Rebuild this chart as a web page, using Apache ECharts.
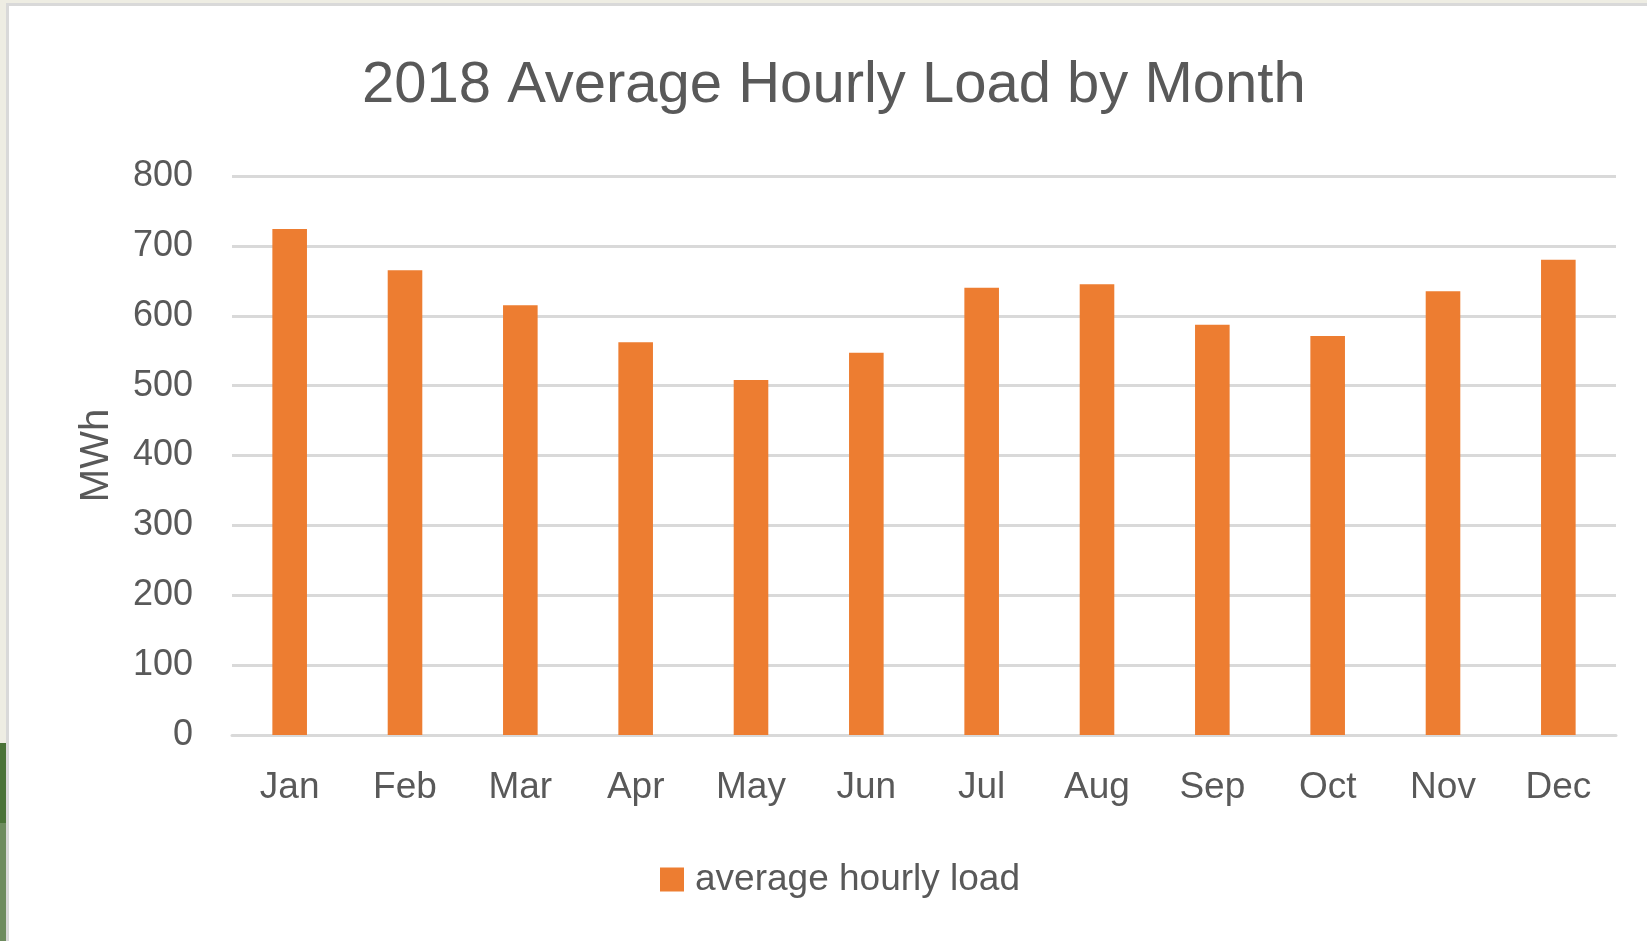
<!DOCTYPE html>
<html>
<head>
<meta charset="utf-8">
<script src="https://cdn.jsdelivr.net/npm/echarts@6/dist/echarts.min.js"></script>
<style>
html,body{margin:0;padding:0;background:#fff;}
#chart{width:1647px;height:941px;}
</style>
</head>
<body>
<div id="chart"></div>
<script>
const months = ['Jan','Feb','Mar','Apr','May','Jun','Jul','Aug','Sep','Oct','Nov','Dec'];
const avgHourlyLoad = [724, 665, 615, 562, 508, 547, 640, 645, 587, 571, 635, 680];
const seriesName = 'average hourly load';
const titleText = '2018 Average Hourly Load by Month';
const yAxisName = 'MWh';

const FONT = '"Liberation Sans", Arial, sans-serif';
const TXT = '#595959';
const chart = echarts.init(document.getElementById('chart'));
chart.setOption({
  backgroundColor: '#ffffff',
  animation: false,
  graphic: [
    { type: 'rect', shape: { x: 0, y: 0, width: 1647, height: 3 }, style: { fill: '#EEEDE3' }, silent: true },
    { type: 'rect', shape: { x: 0, y: 0, width: 6, height: 941 }, style: { fill: '#EEEDE3' }, silent: true },
    { type: 'rect', shape: { x: 6, y: 3, width: 1641, height: 3 }, style: { fill: '#D9D9D9' }, silent: true },
    { type: 'rect', shape: { x: 6, y: 3, width: 3, height: 938 }, style: { fill: '#D9D9D9' }, silent: true },
    { type: 'rect', shape: { x: 0, y: 743, width: 6, height: 80 }, style: { fill: '#4A7337' }, silent: true },
    { type: 'rect', shape: { x: 0, y: 823, width: 6, height: 118 }, style: { fill: '#6E8C5E' }, silent: true }
  ],
  title: {
    text: titleText,
    left: 357,
    top: 52,
    textStyle: { fontFamily: FONT, fontSize: 58, fontWeight: 'normal', color: TXT }
  },
  legend: {
    data: [seriesName],
    left: 660,
    top: 861,
    padding: 0,
    itemWidth: 24,
    itemHeight: 24,
    itemGap: 10,
    icon: 'rect',
    textStyle: { fontFamily: FONT, fontSize: 37, color: TXT, padding: [0,0,0,6] }
  },
  grid: { left: 232, right: 31, top: 176, bottom: 206, containLabel: false },
  xAxis: {
    type: 'category',
    data: months,
    axisLine: { show: true, lineStyle: { color: '#D9D9D9', width: 3 } },
    axisTick: { show: false },
    axisLabel: { fontFamily: FONT, fontSize: 37, color: TXT, margin: 34 }
  },
  yAxis: {
    type: 'value',
    min: 0,
    max: 800,
    interval: 100,
    name: yAxisName,
    nameLocation: 'middle',
    nameGap: 115,
    nameTextStyle: { fontFamily: FONT, fontSize: 40, color: TXT },
    axisLine: { show: false },
    axisTick: { show: false },
    splitLine: { lineStyle: { color: '#D9D9D9', width: 3 } },
    axisLabel: { fontFamily: FONT, fontSize: 36, color: TXT, margin: 39 }
  },
  series: [{
    name: seriesName,
    type: 'bar',
    data: avgHourlyLoad,
    barWidth: '30%',
    itemStyle: { color: '#ED7D31' }
  }]
});
</script>
</body>
</html>
